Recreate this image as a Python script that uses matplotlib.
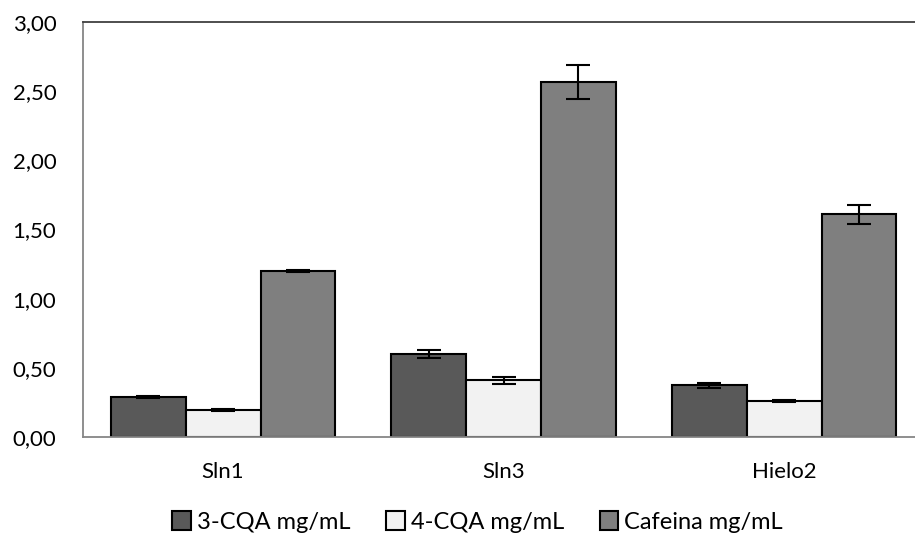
import matplotlib
matplotlib.use("Agg")
import matplotlib.pyplot as plt
import numpy as np
from matplotlib.ticker import FuncFormatter

categories = ["Sln1", "Sln3", "Hielo2"]
series_names = ["3-CQA mg/mL", "4-CQA mg/mL", "Cafeina mg/mL"]
cqa3 = [0.29, 0.60, 0.375]
cqa4 = [0.195, 0.41, 0.26]
cafeina = [1.20, 2.565, 1.61]
cqa3_err = [0.006, 0.03, 0.018]
cqa4_err = [0.004, 0.024, 0.005]
cafeina_err = [0.007, 0.125, 0.068]

colors = ["#595959", "#f2f2f2", "#7f7f7f"]

plt.rcParams["font.family"] = ["Lato", "DejaVu Sans"]

fig = plt.figure(figsize=(9.15, 5.41), dpi=100)
# the plot frame runs past the right edge of the figure
ax = fig.add_axes([0.0905, 0.1922, 0.9197, 0.7671])

x = np.arange(len(categories))
width = 0.267
values = [cqa3, cqa4, cafeina]
errors = [cqa3_err, cqa4_err, cafeina_err]
for i, (vals, errs, col, name) in enumerate(zip(values, errors, colors, series_names)):
    ax.bar(x + (i - 1) * width, vals, width, color=col, edgecolor="black",
           linewidth=1.5, label=name, zorder=2)
    ax.errorbar(x + (i - 1) * width, vals, yerr=errs, fmt="none", ecolor="black",
                elinewidth=1.5, capsize=8.5, capthick=1.5, zorder=3)

ax.set_xlim(-0.5, 2.5)
ax.set_ylim(0, 3.0)
ax.set_yticks(np.arange(0, 3.01, 0.5))
ax.yaxis.set_major_formatter(FuncFormatter(lambda v, p: f"{v:.2f}".replace(".", ",")))
ax.set_xticks(x)
ax.set_xticklabels(categories)
ax.tick_params(axis="both", length=0, labelsize=16, colors="black")
ax.tick_params(axis="y", pad=19)
ax.tick_params(axis="x", pad=18)
for s in ax.spines.values():
    s.set_color("#868686")
    s.set_linewidth(1.3)
ax.spines["top"].set_color("#404040")

handles, labels = ax.get_legend_handles_labels()
fig.legend(handles, labels, loc="center", bbox_to_anchor=(0.522, 0.035), ncol=3,
           frameon=False, fontsize=17, handlelength=0.8, handleheight=0.8,
           handletextpad=0.25, columnspacing=1.5)

fig.savefig("out.png", dpi=100)
